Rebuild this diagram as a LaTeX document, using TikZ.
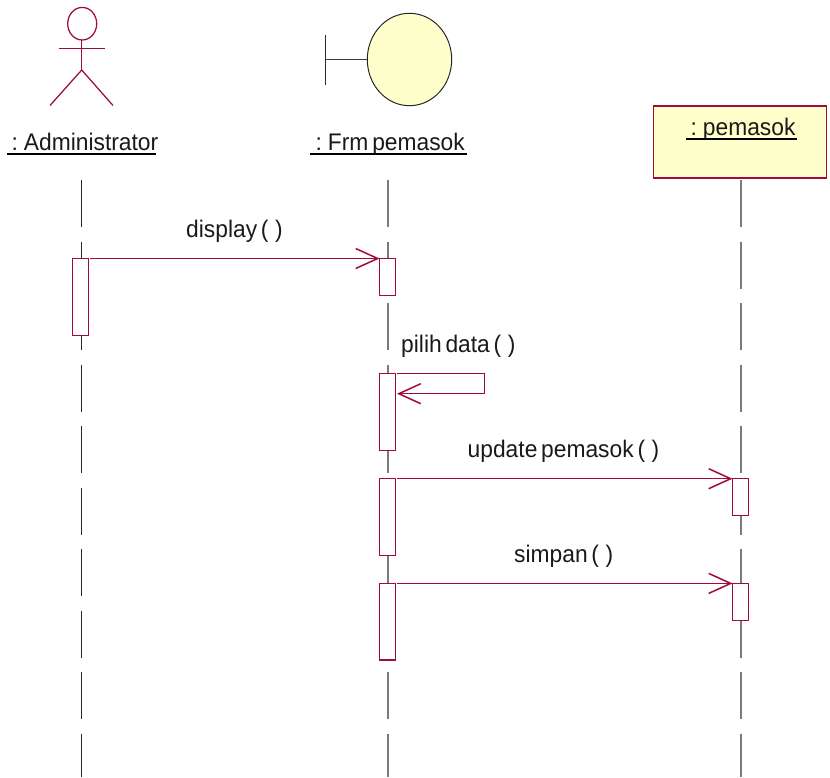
\documentclass[tikz,border=0pt]{standalone}
\usepackage{fontspec}
\setmainfont[FakeStretch=0.95,WordSpace=0.6]{Liberation Sans}
\usetikzlibrary{arrows.meta}
\definecolor{rosered}{HTML}{A00A3E}
\definecolor{roseyellow}{HTML}{FFFFCC}
\newcommand{\emptyargs}{(\hspace{6.5pt})}
\tikzset{
  lifeline/.style={draw=black!85,line width=1pt,dash pattern=on 47pt off 14.5pt},
  lifelinegray/.style={draw=black!52,line width=1.8pt,dash pattern=on 47pt off 14.5pt},
  rose/.style={draw=rosered,line width=1.25pt,outer sep=0pt},
  activation/.style={rose,fill=white,rectangle,inner sep=0pt,minimum width=16pt,anchor=north west},
  msg/.style={rose,-{Straight Barb[length=22pt,width=20pt,line width=1.5pt]}},
  txt/.style={anchor=base west,inner sep=0pt,font=\fontsize{24}{28}\selectfont,text=black!90},
  underl/.style={draw=black,line width=1.5pt}
}
\begin{document}
\begin{tikzpicture}[x=1pt,y=-1pt]
\useasboundingbox (0,0) rectangle (830,777);
% lifelines
\coordinate (lat) at (81.5,180); \coordinate (lab) at (81.5,777);
\coordinate (lbt) at (388,180); \coordinate (lbb) at (388,777);
\coordinate (lct) at (741,180); \coordinate (lcb) at (741,777);
\draw[lifeline] (lat) -- (lab);
\draw[lifelinegray] (lbt) -- (lbb);
\draw[lifelinegray] (lct) -- (lcb);
% actor
\draw[rose] (82.2,23.7) ellipse [x radius=14.5,y radius=16.3];
\draw[rose] (58.5,48.5) -- (104.5,48.5);
\draw[rose] (81.7,40) -- (81.7,70);
\draw[rose] (50,105.5) -- (81.7,70) -- (113,105.5);
\node[txt] (administrator) at (11.5,150) {: Administrator};
\draw[underl] (7,154) -- (156,154);
% boundary
\draw[line width=1.2pt,black!85] (325.5,35) -- (325.5,85);
\draw[line width=1.2pt,black!75] (325.5,59.7) -- (367.3,59.7);
\draw[fill=roseyellow,draw=black!85,line width=1pt] (409.5,59.5) ellipse [x radius=42.2,y radius=46.2];
\node[txt] (frm) at (315.5,150) {: Frm pemasok};
\draw[underl] (310,154) -- (467,154);
% entity box
\node[rose,fill=roseyellow,rectangle,inner sep=0pt,minimum width=173pt,minimum height=72pt,anchor=north west] (pemasokbox) at (653.7,106) {};
\node[txt] (pemasok) at (690.5,135) {: pemasok};
\draw[underl] (686,139) -- (797,139);
% activations
\node[activation,minimum height=76.7pt] (a1) at (72.7,258.5) {};
\node[activation,minimum height=37pt] (b1) at (379.5,258.5) {};
\node[activation,minimum height=76.7pt] (b2) at (379.5,373.7) {};
\node[activation,minimum height=76.5pt] (b3) at (379.5,478.7) {};
\node[activation,minimum height=76.7pt] (b4) at (379.5,583.4) {};
\node[activation,minimum height=37pt] (c1) at (732.5,478.7) {};
\node[activation,minimum height=37.3pt] (c2) at (732.5,583.4) {};
% messages
\draw[msg] ([xshift=1.5pt]a1.north east) -- (b1.north west);
\coordinate (s1) at (484.5,373.7);
\coordinate (s2) at (484.5,393.7);
\draw[msg] ([xshift=1.5pt]b2.north east) -- (s1) -- (s2) -- ([xshift=1.5pt,yshift=-20pt]b2.north east);
\draw[msg] ([xshift=1.5pt]b3.north east) -- (c1.north west);
\draw[msg] ([xshift=1.5pt]b4.north east) -- (c2.north west);
% labels
\node[txt] (m1) at (186,237.5) {display \emptyargs};
\node[txt] (m2) at (401,352.5) {pilih data \emptyargs};
\node[txt] (m3) at (467.5,457.5) {update pemasok \emptyargs};
\node[txt] (m4) at (514,562.5) {simpan \emptyargs};
\end{tikzpicture}
\end{document}
